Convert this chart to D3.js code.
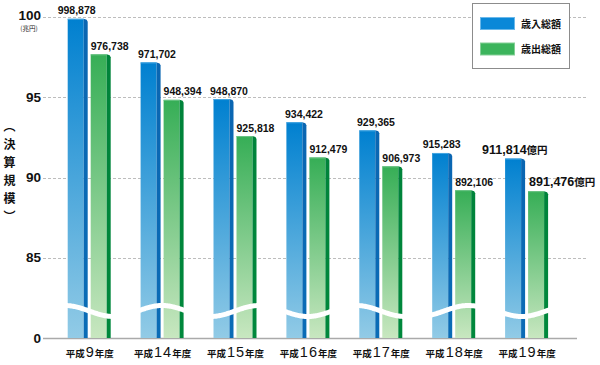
<!DOCTYPE html>
<html><head><meta charset="utf-8">
<script src="https://cdn.jsdelivr.net/npm/d3@7/dist/d3.min.js"></script>
<style>body{margin:0;background:#fff}svg{display:block}</style>
</head><body>
<svg id="chart" width="600" height="365"></svg>
<script>
// ---- data (億円) ----
const years = ["9", "14", "15", "16", "17", "18", "19"];
const revenue = [998878, 971702, 948870, 934422, 929365, 915283, 911814];
const expenditure = [976738, 948394, 925818, 912479, 906973, 892106, 891476];
const yTickValues = [80, 85, 90, 95, 100];
const yTickLabels = ["0", "85", "90", "95", "100"];
const seriesNames = ["歳入総額", "歳出総額"];
const axisTitle = ["︵", "決", "算", "規", "模", "︶"];

// ---- layout ----
const svg = d3.select("#chart");
const y = d3.scaleLinear().domain([80, 100]).range([338, 17]);
const x = d3.scalePoint().domain(years).range([89.2, 526.6]);
const FW = 16, SW = 4;
const offs = [-21.5, 1.5];
const cjk = "'Noto Sans CJK JP', sans-serif";
const lat = "'Liberation Sans', Arial, sans-serif";

const defs = svg.append("defs");
function grad(id, c0, c1) {
  const g = defs.append("linearGradient").attr("id", id).attr("x1", 0).attr("y1", 0).attr("x2", 0).attr("y2", 1);
  g.append("stop").attr("offset", 0).attr("stop-color", c0);
  g.append("stop").attr("offset", 1).attr("stop-color", c1);
}
grad("gb", "#0080d0", "#92cbe6");
grad("gg", "#36ae56", "#c8e7c0");
grad("sb", "#0a66b2", "#0a6cb6");
grad("sg", "#00833a", "#00883c");
const styles = [
  {front: "url(#gb)", side: "url(#sb)", top: "#45a6e2"},
  {front: "url(#gg)", side: "url(#sg)", top: "#6cc486"}
];

// gridlines
svg.append("g").selectAll("line").data(yTickValues.slice(1)).join("line")
  .attr("x1", 43).attr("x2", 588)
  .attr("y1", d => Math.round(y(d)) + 0.5).attr("y2", d => Math.round(y(d)) + 0.5)
  .attr("stroke", "#bdbdbd").attr("stroke-width", 1).attr("stroke-dasharray", "3,2");

// y tick labels
svg.append("g").selectAll("text").data(yTickValues).join("text")
  .attr("x", 41).attr("y", d => y(d) + (d === 100 ? 3 : 4.5))
  .attr("text-anchor", "end")
  .attr("font-family", lat).attr("font-weight", "bold").attr("font-size", 13.5)
  .attr("fill", "#111")
  .text((d, i) => yTickLabels[i]);
svg.append("text").attr("x", 29).attr("y", 31).attr("text-anchor", "middle")
  .attr("font-family", cjk).attr("font-size", 6.5).attr("fill", "#222").text("(兆円)");

// axis title (vertical)
svg.append("g").selectAll("text").data(axisTitle).join("text")
  .attr("x", 9.5).attr("y", (d, i) => 131 + i * 18)
  .attr("text-anchor", "middle")
  .attr("font-family", cjk).attr("font-weight", "bold").attr("font-size", 12)
  .attr("fill", "#111").text(d => d);

// baseline
svg.append("line").attr("x1", 43).attr("x2", 577).attr("y1", 338.5).attr("y2", 338.5)
  .attr("stroke", "#aaa").attr("stroke-width", 1.5);

// bars
const series = [revenue, expenditure];
const bars = [];
series.forEach((arr, s) => arr.forEach((v, i) => bars.push({s, i, v: v / 10000, year: years[i]})));
const bx = d => x(d.year) + offs[d.s];
const bg = svg.append("g");
bg.selectAll("rect.front").data(bars).join("rect").attr("class", "front")
  .attr("x", bx).attr("y", d => y(d.v)).attr("width", FW).attr("height", d => y(80) - y(d.v))
  .attr("fill", d => styles[d.s].front);
bg.selectAll("path.side").data(bars).join("path").attr("class", "side")
  .attr("d", d => {
    const x0 = bx(d) + FW, t = y(d.v), b = y(80);
    return `M${x0},${t}L${x0 + SW - 1},${t + 1}L${x0 + SW},${t + 3}L${x0 + SW},${b}L${x0},${b}Z`;
  })
  .attr("fill", d => styles[d.s].side);
bg.selectAll("rect.top").data(bars).join("rect").attr("class", "top")
  .attr("x", bx).attr("y", d => y(d.v)).attr("width", FW).attr("height", 1)
  .attr("fill", d => styles[d.s].top);

// axis break waves
const phases = [0, 1.5 * Math.PI, Math.PI, 0.5 * Math.PI, 0, 1.2 * Math.PI, 0.6 * Math.PI];
const wave = d3.line().curve(d3.curveBasis);
svg.append("g").selectAll("path").data(years).join("path")
  .attr("d", (yr, i) => {
    const c = x(yr), pts = [];
    for (let dx = -24; dx <= 25; dx += 1) pts.push([c + dx, 311 + 5.5 * Math.sin(phases[i] + 2 * Math.PI * dx / 97)]);
    return wave(pts);
  })
  .attr("fill", "none").attr("stroke", "#fff").attr("stroke-width", 5);

// value labels
const labelDx = [[-10, -2.6, -3.5, -1.4, -2.3, -9.5, -23], [0, 0, 0, 0, 0, 0, 1]];
const fmt = d3.format(",");
const lg = svg.append("g");
bars.forEach(d => {
  const last = d.i === years.length - 1;
  const t = lg.append("text")
    .attr("x", bx(d) + labelDx[d.s][d.i])
    .attr("y", y(d.v) - (last ? 5 : 4.5))
    .attr("font-family", lat).attr("font-weight", "bold").attr("fill", "#111")
    .attr("font-size", last ? 12.5 : 10.5);
  t.append("tspan").text(fmt(d.v * 10000));
  if (last) t.append("tspan").attr("font-family", cjk).attr("font-size", 10.5).text("億円");
});

// x labels
const xl = svg.append("g").selectAll("text").data(years).join("text")
  .attr("x", d => x(d) + 0.5).attr("y", 357).attr("text-anchor", "middle").attr("fill", "#111");
xl.append("tspan").attr("font-family", cjk).attr("font-weight", "bold").attr("font-size", 9.5).text("平成");
xl.append("tspan").attr("font-family", lat).attr("font-size", 14.5).attr("letter-spacing", 1).attr("dx", 1).text(d => d);
xl.append("tspan").attr("font-family", cjk).attr("font-weight", "bold").attr("font-size", 9.5).text("年度");

// legend
const leg = svg.append("g");
leg.append("rect").attr("x", 472.5).attr("y", 3.5).attr("width", 97).attr("height", 65)
  .attr("fill", "#fff").attr("stroke", "#8c8c8c").attr("stroke-width", 1);
const legColors = ["#0a88d8", "#3cb45c"];
const legStroke = ["#6ab8ea", "#84cf96"];
const li = leg.selectAll("g.item").data(seriesNames).join("g").attr("class", "item")
  .attr("transform", (d, i) => `translate(0,${i * 25.5})`);
li.append("rect").attr("x", 480.5).attr("y", 17.5).attr("width", 34).attr("height", 12)
  .attr("fill", (d, i) => legColors[i]).attr("stroke", (d, i) => legStroke[i]).attr("stroke-width", 1);
li.append("text").attr("x", 521).attr("y", 27.5)
  .attr("font-family", cjk).attr("font-weight", "bold").attr("font-size", 10).attr("fill", "#111")
  .text(d => d);
</script>
</body></html>
